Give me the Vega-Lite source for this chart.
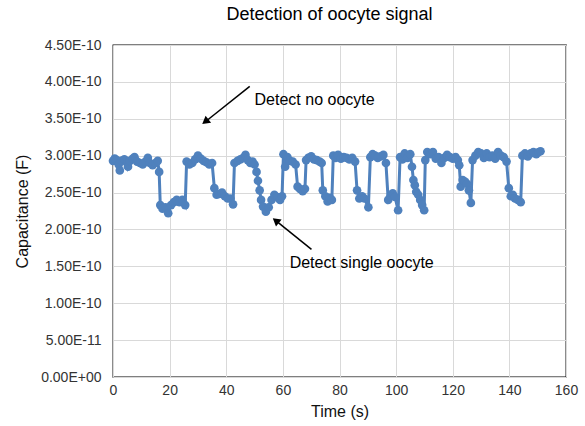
{
  "$schema": "https://vega.github.io/schema/vega-lite/v6.json",
  "width": 453,
  "height": 332,
  "autosize": {"type": "none"},
  "padding": {"left": 113, "top": 45, "right": 19, "bottom": 49},
  "background": "white",
  "config": {
    "font": "Liberation Sans",
    "view": {"stroke": "#000000", "strokeWidth": 1.3},
    "axis": {"domain": false, "ticks": false, "gridColor": "#d9d9d9", "gridWidth": 1, "labelFont": "Liberation Sans", "labelFontSize": 14, "labelColor": "#333333", "titleFont": "Liberation Sans", "titleFontSize": 16, "titleFontWeight": "normal", "titleColor": "#111111", "labelOverlap": false, "labelFlush": false}
  },
  "title": {"text": "Detection of oocyte signal", "fontSize": 18, "font": "Liberation Sans", "fontWeight": "normal", "color": "#000000", "offset": 14, "dx": -10},
  "datasets": {
    "series": [
      {"t": 0, "c": 2.93e-10}, {"t": 0.6, "c": 2.96e-10}, {"t": 1.3, "c": 2.94e-10}, {"t": 2, "c": 2.88e-10}, {"t": 2.4, "c": 2.8e-10},
      {"t": 3, "c": 2.93e-10}, {"t": 4, "c": 2.95e-10}, {"t": 5, "c": 2.9e-10}, {"t": 5.3, "c": 2.85e-10}, {"t": 6, "c": 2.93e-10},
      {"t": 7, "c": 2.96e-10}, {"t": 7.6, "c": 2.98e-10}, {"t": 8.5, "c": 2.92e-10}, {"t": 9.5, "c": 2.9e-10}, {"t": 10.5, "c": 2.88e-10},
      {"t": 11.5, "c": 2.92e-10}, {"t": 12.3, "c": 2.97e-10}, {"t": 13, "c": 2.9e-10}, {"t": 14, "c": 2.87e-10}, {"t": 15, "c": 2.9e-10},
      {"t": 15.8, "c": 2.93e-10}, {"t": 16.3, "c": 2.78e-10},
      {"t": 16.7, "c": 2.33e-10}, {"t": 17.5, "c": 2.28e-10}, {"t": 18.5, "c": 2.3e-10}, {"t": 19.5, "c": 2.22e-10}, {"t": 20.5, "c": 2.33e-10},
      {"t": 21.5, "c": 2.37e-10}, {"t": 22.5, "c": 2.4e-10}, {"t": 23.5, "c": 2.37e-10}, {"t": 24.5, "c": 2.4e-10}, {"t": 25.5, "c": 2.33e-10},
      {"t": 26, "c": 2.92e-10}, {"t": 27, "c": 2.88e-10}, {"t": 28, "c": 2.9e-10}, {"t": 29, "c": 2.95e-10}, {"t": 30, "c": 3.0e-10},
      {"t": 31, "c": 2.96e-10}, {"t": 32, "c": 2.93e-10}, {"t": 33, "c": 2.91e-10}, {"t": 34, "c": 2.88e-10}, {"t": 35, "c": 2.9e-10},
      {"t": 35.8, "c": 2.56e-10}, {"t": 36.6, "c": 2.47e-10}, {"t": 37.5, "c": 2.48e-10}, {"t": 38.5, "c": 2.5e-10}, {"t": 39.5, "c": 2.45e-10},
      {"t": 40.5, "c": 2.42e-10}, {"t": 41.5, "c": 2.42e-10}, {"t": 42.4, "c": 2.34e-10},
      {"t": 42.9, "c": 2.9e-10}, {"t": 44, "c": 2.93e-10}, {"t": 45, "c": 2.95e-10}, {"t": 46, "c": 2.97e-10}, {"t": 46.8, "c": 3.01e-10},
      {"t": 47.6, "c": 2.94e-10}, {"t": 48.5, "c": 2.9e-10}, {"t": 49.3, "c": 2.92e-10}, {"t": 50, "c": 2.88e-10}, {"t": 50.7, "c": 2.78e-10},
      {"t": 51.2, "c": 2.66e-10}, {"t": 51.8, "c": 2.53e-10}, {"t": 52.3, "c": 2.4e-10}, {"t": 53, "c": 2.31e-10}, {"t": 54, "c": 2.24e-10},
      {"t": 55, "c": 2.3e-10}, {"t": 56, "c": 2.4e-10}, {"t": 57, "c": 2.47e-10}, {"t": 58, "c": 2.44e-10}, {"t": 59, "c": 2.4e-10},
      {"t": 59.7, "c": 2.45e-10},
      {"t": 60.2, "c": 3.02e-10}, {"t": 60.8, "c": 2.85e-10}, {"t": 61.6, "c": 2.98e-10}, {"t": 62.5, "c": 2.93e-10}, {"t": 63.5, "c": 2.92e-10},
      {"t": 64.5, "c": 2.88e-10},
      {"t": 65.2, "c": 2.58e-10}, {"t": 66, "c": 2.55e-10}, {"t": 67, "c": 2.52e-10}, {"t": 67.8, "c": 2.55e-10},
      {"t": 68.2, "c": 2.94e-10}, {"t": 69, "c": 2.97e-10}, {"t": 70, "c": 2.99e-10}, {"t": 71, "c": 2.95e-10}, {"t": 72, "c": 2.94e-10},
      {"t": 73, "c": 2.92e-10}, {"t": 73.7, "c": 2.9e-10},
      {"t": 74.1, "c": 2.53e-10}, {"t": 75, "c": 2.45e-10}, {"t": 75.8, "c": 2.38e-10}, {"t": 76.6, "c": 2.43e-10}, {"t": 77.3, "c": 2.4e-10},
      {"t": 77.8, "c": 3.0e-10}, {"t": 78.6, "c": 2.97e-10}, {"t": 79.5, "c": 3.01e-10}, {"t": 80.5, "c": 2.96e-10}, {"t": 81.5, "c": 2.98e-10},
      {"t": 82.5, "c": 2.97e-10}, {"t": 83.5, "c": 2.95e-10}, {"t": 84.5, "c": 2.97e-10}, {"t": 85.5, "c": 2.92e-10},
      {"t": 86.2, "c": 2.53e-10}, {"t": 87, "c": 2.42e-10}, {"t": 88, "c": 2.45e-10}, {"t": 88.8, "c": 2.42e-10}, {"t": 90.2, "c": 2.3e-10},
      {"t": 90.9, "c": 2.98e-10}, {"t": 91.7, "c": 3.02e-10}, {"t": 92.6, "c": 3.0e-10}, {"t": 93.5, "c": 2.97e-10}, {"t": 94.5, "c": 2.99e-10},
      {"t": 95.5, "c": 3.01e-10}, {"t": 96.4, "c": 2.9e-10},
      {"t": 97.2, "c": 2.4e-10}, {"t": 98, "c": 2.45e-10}, {"t": 98.8, "c": 2.49e-10}, {"t": 99.6, "c": 2.44e-10}, {"t": 100.7, "c": 2.26e-10},
      {"t": 101.4, "c": 2.98e-10}, {"t": 102.2, "c": 2.95e-10}, {"t": 103, "c": 3.03e-10}, {"t": 104, "c": 2.97e-10}, {"t": 105, "c": 3.02e-10},
      {"t": 105.6, "c": 2.85e-10}, {"t": 106.1, "c": 2.67e-10}, {"t": 106.6, "c": 2.6e-10}, {"t": 107.1, "c": 2.51e-10}, {"t": 107.8, "c": 2.47e-10},
      {"t": 108.5, "c": 2.4e-10}, {"t": 109.2, "c": 2.33e-10}, {"t": 109.9, "c": 2.26e-10},
      {"t": 110.3, "c": 2.94e-10}, {"t": 111, "c": 3.05e-10}, {"t": 112, "c": 3.02e-10}, {"t": 113, "c": 3.05e-10}, {"t": 114, "c": 2.96e-10},
      {"t": 115, "c": 2.98e-10}, {"t": 116, "c": 2.9e-10}, {"t": 117, "c": 2.97e-10}, {"t": 118, "c": 3.01e-10}, {"t": 119, "c": 2.98e-10},
      {"t": 120, "c": 2.96e-10}, {"t": 121, "c": 2.98e-10}, {"t": 121.8, "c": 2.94e-10}, {"t": 122.3, "c": 2.87e-10},
      {"t": 122.8, "c": 2.58e-10}, {"t": 123.5, "c": 2.67e-10}, {"t": 124.3, "c": 2.65e-10}, {"t": 125, "c": 2.62e-10}, {"t": 125.7, "c": 2.53e-10},
      {"t": 126.4, "c": 2.36e-10},
      {"t": 127, "c": 2.94e-10}, {"t": 128, "c": 3.0e-10}, {"t": 129, "c": 3.05e-10}, {"t": 130, "c": 3.03e-10}, {"t": 131, "c": 2.97e-10},
      {"t": 132, "c": 3.03e-10}, {"t": 133, "c": 2.98e-10}, {"t": 134, "c": 3.0e-10}, {"t": 135, "c": 2.96e-10}, {"t": 136, "c": 3.05e-10},
      {"t": 137, "c": 3.0e-10}, {"t": 138, "c": 2.98e-10}, {"t": 139, "c": 2.92e-10},
      {"t": 139.8, "c": 2.56e-10}, {"t": 140.5, "c": 2.45e-10}, {"t": 141.2, "c": 2.47e-10}, {"t": 142, "c": 2.42e-10}, {"t": 143, "c": 2.4e-10},
      {"t": 144, "c": 2.37e-10},
      {"t": 144.6, "c": 3.0e-10}, {"t": 145.5, "c": 3.03e-10}, {"t": 146.5, "c": 2.99e-10}, {"t": 147.5, "c": 3.03e-10}, {"t": 148.5, "c": 3.05e-10},
      {"t": 149.5, "c": 3.02e-10}, {"t": 150.4, "c": 3.05e-10}, {"t": 151, "c": 3.06e-10}
    ],
    "labels": [
      {"t": 50.0, "c": 3.75e-10, "label": "Detect no oocyte"},
      {"t": 62.4, "c": 1.545e-10, "label": "Detect single oocyte"}
    ],
    "arrows": [
      {"t": 48.3, "c": 3.94e-10, "t2": 32.6, "c2": 3.46e-10, "ang": 232},
      {"t": 70.1, "c": 1.73e-10, "t2": 57.5, "c2": 2.12e-10, "ang": 309}
    ]
  },
  "layer": [
    {
      "data": {"name": "series"},
      "mark": {"type": "line", "color": "#4f81bd", "strokeWidth": 3, "point": {"filled": true, "size": 75, "color": "#4f81bd", "opacity": 1}},
      "encoding": {
        "x": {"field": "t", "type": "quantitative", "scale": {"domain": [0, 160], "nice": false}, "axis": {"title": "Time (s)", "values": [0, 20, 40, 60, 80, 100, 120, 140, 160], "tickCount": 20, "labelPadding": 6, "titlePadding": 6}},
        "y": {"field": "c", "type": "quantitative", "scale": {"domain": [0, 4.5e-10], "nice": false, "zero": true}, "axis": {"title": "Capacitance (F)", "values": [0, 5e-11, 1e-10, 1.5e-10, 2e-10, 2.5e-10, 3e-10, 3.5e-10, 4e-10, 4.5e-10], "tickCount": 20, "labelExpr": "datum.value == 0 ? '0.00E+00' : replace(format(datum.value, '.2e'), 'e', 'E')", "labelPadding": 12, "titlePadding": 10}}
      }
    },
    {
      "data": {"name": "arrows"},
      "mark": {"type": "rule", "color": "#000000", "strokeWidth": 1.5},
      "encoding": {
        "x": {"field": "t", "type": "quantitative"},
        "y": {"field": "c", "type": "quantitative"},
        "x2": {"field": "t2"},
        "y2": {"field": "c2"}
      }
    },
    {
      "data": {"name": "arrows"},
      "mark": {"type": "point", "shape": "triangle-up", "filled": true, "color": "#000000", "size": 80, "opacity": 1},
      "encoding": {
        "x": {"field": "t2", "type": "quantitative"},
        "y": {"field": "c2", "type": "quantitative"},
        "angle": {"field": "ang", "type": "quantitative", "scale": null}
      }
    },
    {
      "data": {"name": "labels"},
      "mark": {"type": "text", "align": "left", "baseline": "middle", "fontSize": 16, "font": "Liberation Sans", "color": "#000000"},
      "encoding": {
        "x": {"field": "t", "type": "quantitative"},
        "y": {"field": "c", "type": "quantitative"},
        "text": {"field": "label"}
      }
    }
  ]
}
